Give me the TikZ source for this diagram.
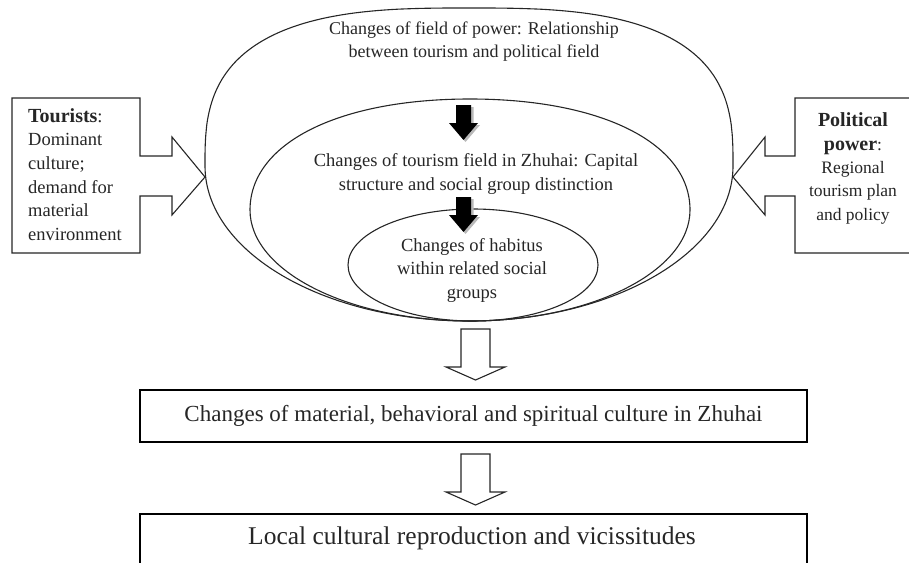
\documentclass[tikz,border=0pt]{standalone}
\usepackage{fontspec}
\setmainfont{Liberation Serif}
\begin{document}
\begin{tikzpicture}[x=1pt,y=-1pt,line join=round,
  ell/.style={draw=black!85,line width=1.1pt},
  callout/.style={draw=black!85,line width=1.1pt,fill=white,line join=miter},
  bigbox/.style={draw=black,line width=2.4pt,line join=miter},
  ebody/.style={font=\fontsize{18.5}{23.5}\selectfont,align=center,inner sep=0pt,text=black!85},
  sidebody/.style={font=\fontsize{18.5}{23.6}\selectfont,inner sep=0pt,text=black!85},
  hollow/.style={draw=black!85,line width=1.1pt,fill=white,line join=miter},
  solid/.style={fill=black}]
\useasboundingbox (0,0) rectangle (909,562);
\clip (0,0) rectangle (909,562);
% outer field (flattened top, elliptic bottom)
\draw[ell] (733,166)
  -- plot[domain=0.3:179.7,samples=140,variable=\t]
     ({469+264*sign(cos(\t))*abs(cos(\t))^(0.69)},{166-158*abs(sin(\t))^(0.69)})
  -- (205,166) arc[start angle=180,end angle=360,x radius=264pt,y radius=155pt] -- cycle;
% middle field
\draw[ell] (690,210) .. controls (690,143.4) and (602,99) .. (470,99)
  .. controls (338,99) and (250,143.4) .. (250,210)
  .. controls (250,271.3) and (348.5,321) .. (470,321)
  .. controls (591.5,321) and (690,271.3) .. (690,210) -- cycle;
% inner
\draw[ell] (473,265) ellipse [x radius=125pt, y radius=56pt];
% ellipse texts
\node[ebody,font=\fontsize{18}{23}\selectfont] (power) at (474,41.5) {Changes of field of power: Relationship\\between tourism and political field};
\node[ebody] (field) at (476,174) {Changes of tourism field in Zhuhai: Capital\\structure and social group distinction};
\node[ebody] (habitus) at (472,270) {Changes of habitus\\within related social\\groups};
% black arrows
\foreach \t in {105,197}{
  \fill[gray!55] (458.5,\t+2) -- (473.5,\t+2) -- (473.5,\t+20) -- (480,\t+20) -- (465.5,\t+37) -- (451,\t+20) -- (458.5,\t+20) -- cycle;
  \fill[solid] (456,\t) -- (471,\t) -- (471,\t+18) -- (478,\t+18) -- (463.5,\t+35) -- (449,\t+18) -- (456,\t+18) -- cycle;
}
% left callout
\draw[callout] (12,98) -- (140,98) -- (140,156) -- (172,156) -- (172,137) -- (205,177)
  -- (172,215) -- (172,196) -- (140,196) -- (140,253) -- (12,253) -- cycle;
\node[sidebody,align=left,anchor=west] (tourists) at (28,174.5)
  {{\fontsize{20}{23.6}\selectfont\textbf{Tourists}}:\\Dominant\\culture;\\demand for\\material\\environment};
% right callout
\draw[callout] (930,98) -- (795,98) -- (795,156) -- (765,156) -- (765,137) -- (733,177)
  -- (765,215) -- (765,196) -- (795,196) -- (795,253) -- (930,253) -- cycle;
\node[sidebody,font=\fontsize{17.5}{23.3}\selectfont,align=center] (political) at (853,168.5)
  {{\fontsize{20}{23.3}\selectfont\textbf{Political}}\\{\fontsize{20}{23.3}\selectfont\textbf{power}}:\\Regional\\tourism plan\\and policy};
% hollow arrows
\foreach \t in {329,454}{
  \draw[hollow] (461,\t) -- (490,\t) -- (490,\t+38) -- (505,\t+38) -- (475.5,\t+51) -- (446,\t+38) -- (461,\t+38) -- cycle;
}
% bottom boxes
\node[bigbox,minimum width=667pt,minimum height=52pt,inner sep=0pt,
  font=\fontsize{23}{27}\selectfont,text=black!85] (material) at (473.5,416)
  {Changes of material, behavioral and spiritual culture in Zhuhai};
\draw[bigbox] (140,600) -- (140,514) -- (807,514) -- (807,600);
\node[font=\fontsize{25.5}{29}\selectfont,text=black!85,inner sep=0pt] (local) at (472,538)
  {Local cultural reproduction and vicissitudes};
\end{tikzpicture}
\end{document}
